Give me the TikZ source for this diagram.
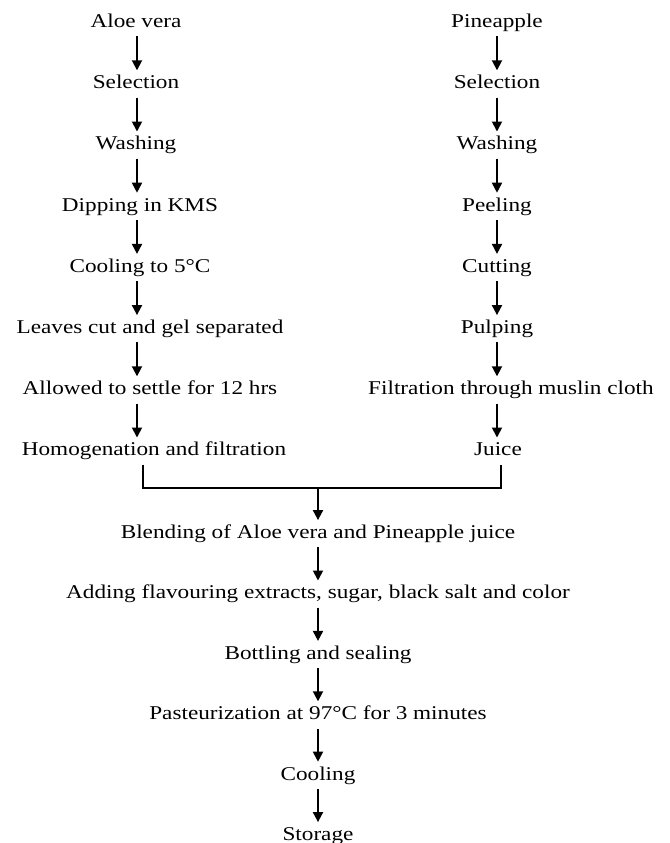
\documentclass[tikz,border=0pt]{standalone}
\usepackage{fontspec}
\setmainfont[FakeStretch=1.19]{Liberation Serif}
\usetikzlibrary{arrows.meta, positioning}
\tikzset{
  stepbox/.style={inner sep=2pt, text height=7pt, text depth=2.2pt,
                  font=\fontsize{9.75}{12}\selectfont},
  arrow/.style={-{Triangle[width=5pt,length=5pt]}, line width=0.9pt},
  joinline/.style={line width=0.9pt},
}

\begin{document}
\begin{tikzpicture}[x=0.5pt, y=0.5pt, node distance=17pt]

\useasboundingbox (0,0) rectangle (670,-843);

% ── arrow axes of the three columns ───────────────────────────────────────────
\coordinate (lcol) at (137,0);
\coordinate (rcol) at (497,0);
\coordinate (ccol) at (318,0);

% ── Aloe vera column ─────────────────────────────────────────────────────────
\node[stepbox] (aloe) at (136,-22.7) {Aloe vera};
\node[stepbox, below=of aloe] (asel) {Selection};
\node[stepbox, below=of asel] (awash) {Washing};
\node[stepbox, below=of awash, xshift=2pt] (kms) {Dipping in KMS};
\node[stepbox, below=of kms] (cool5) {Cooling to 5°C};
\node[stepbox, below=of cool5, xshift=5pt] (leaves) {Leaves cut and gel separated};
\node[stepbox, below=of leaves] (settle) {Allowed to settle for 12 hrs};
\node[stepbox, below=of settle, xshift=2pt] (homog) {Homogenation and filtration};

\draw[arrow] (aloe.south -| lcol) -- (asel.north -| lcol);
\draw[arrow] (asel.south -| lcol) -- (awash.north -| lcol);
\draw[arrow] (awash.south -| lcol) -- (kms.north -| lcol);
\draw[arrow] (kms.south -| lcol) -- (cool5.north -| lcol);
\draw[arrow] (cool5.south -| lcol) -- (leaves.north -| lcol);
\draw[arrow] (leaves.south -| lcol) -- (settle.north -| lcol);
\draw[arrow] (settle.south -| lcol) -- (homog.north -| lcol);

% ── Pineapple column ─────────────────────────────────────────────────────────
\node[stepbox] (pine) at (497,-22.7) {Pineapple};
\node[stepbox, below=of pine] (psel) {Selection};
\node[stepbox, below=of psel] (pwash) {Washing};
\node[stepbox, below=of pwash] (peel) {Peeling};
\node[stepbox, below=of peel] (cut) {Cutting};
\node[stepbox, below=of cut] (pulp) {Pulping};
\node[stepbox, below=of pulp, xshift=7pt] (muslin) {Filtration through muslin cloth};
\node[stepbox, below=of muslin, xshift=-6.5pt] (juice) {Juice};

\draw[arrow] (pine.south -| rcol) -- (psel.north -| rcol);
\draw[arrow] (psel.south -| rcol) -- (pwash.north -| rcol);
\draw[arrow] (pwash.south -| rcol) -- (peel.north -| rcol);
\draw[arrow] (peel.south -| rcol) -- (cut.north -| rcol);
\draw[arrow] (cut.south -| rcol) -- (pulp.north -| rcol);
\draw[arrow] (pulp.south -| rcol) -- (muslin.north -| rcol);
\draw[arrow] (muslin.south -| rcol) -- (juice.north -| rcol);

% ── join of both streams ─────────────────────────────────────────────────────
\coordinate (jleft) at (143,-488);
\coordinate (jright) at (501,-488);
\coordinate (jmid) at (318,-488);
\draw[joinline] (homog.south -| jleft) -- (jleft) -- (jright) -- (juice.south -| jright);

% ── common steps ─────────────────────────────────────────────────────────────
\begin{scope}[node distance=16.6pt]
\node[stepbox] (blend) at (318,-533.7) {Blending of Aloe vera and Pineapple juice};
\node[stepbox, below=of blend] (flavour) {Adding flavouring extracts, sugar, black salt and color};
\node[stepbox, below=of flavour] (bottle) {Bottling and sealing};
\node[stepbox, below=of bottle] (pasteur) {Pasteurization at 97°C for 3 minutes};
\node[stepbox, below=of pasteur] (cool) {Cooling};
\node[stepbox, below=of cool] (store) {Storage};
\end{scope}

\draw[arrow] (jmid) -- (blend.north -| ccol);
\draw[arrow] (blend.south -| ccol) -- (flavour.north -| ccol);
\draw[arrow] (flavour.south -| ccol) -- (bottle.north -| ccol);
\draw[arrow] (bottle.south -| ccol) -- (pasteur.north -| ccol);
\draw[arrow] (pasteur.south -| ccol) -- (cool.north -| ccol);
\draw[arrow] (cool.south -| ccol) -- (store.north -| ccol);

\end{tikzpicture}
\end{document}
